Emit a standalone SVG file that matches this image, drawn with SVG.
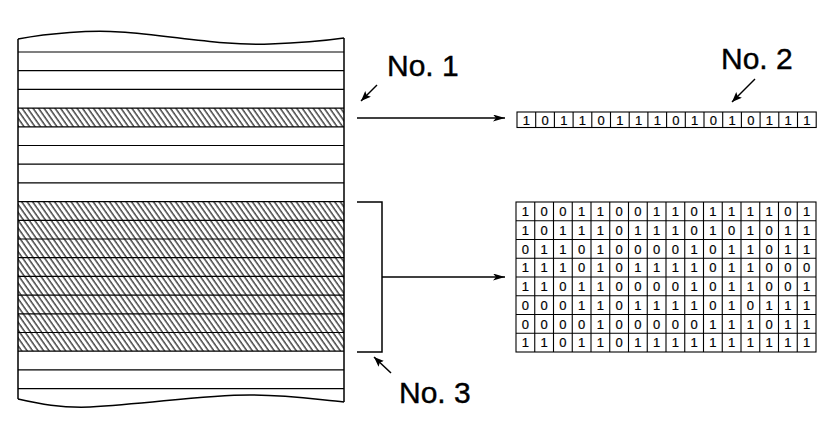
<svg xmlns="http://www.w3.org/2000/svg" width="838" height="439" viewBox="0 0 838 439">
<style>
.ln{stroke:#000;stroke-width:1.5;fill:none}
.hl{stroke:#000;stroke-width:1.2;fill:none}
.lbl{font-family:"Liberation Sans",Arial,sans-serif;font-size:30px;fill:#000;stroke:#000;stroke-width:0.4}
.dg{font-family:"Liberation Sans",Arial,sans-serif;font-size:13px;fill:#000;text-anchor:middle;stroke:#000;stroke-width:0.2}
.cell{stroke:#000;stroke-width:1.1;fill:none}
</style>
<defs>
<pattern id="hatch" patternUnits="userSpaceOnUse" width="4.5" height="10" patternTransform="rotate(-35)">
<line x1="1" y1="0" x2="1" y2="10" stroke="#000" stroke-width="1.1"/>
</pattern>
<marker id="ah" markerUnits="userSpaceOnUse" markerWidth="13" markerHeight="8" refX="12" refY="3.5" orient="auto">
<path d="M0,0 L12,3.5 L0,7 L3,3.5 z" fill="#000"/>
</marker>
<marker id="sah" markerUnits="userSpaceOnUse" markerWidth="11" markerHeight="9" refX="10" refY="4" orient="auto">
<path d="M0,0 L10,4 L0,8 L2,4 z" fill="#000"/>
</marker>
</defs>
<rect width="838" height="439" fill="#fff"/>

<g id="track-block">
<rect x="18" y="108.1" width="326" height="18.7" fill="url(#hatch)"/>
<rect x="18" y="201.6" width="326" height="149.6" fill="url(#hatch)"/>
<path class="ln" d="M18,39 C50,33 90,30 120,32 C170,35 220,46 270,44 C300,43 330,40 344,38"/>
<path class="ln" d="M18,399 C40,404 60,408 90,407 C150,404 200,395 250,395 C290,395 320,400 344,402"/>
<path class="ln" d="M18,39 V399 M344,38 V402"/>
<path class="hl" d="M18,52 H344 M18,70.7 H344 M18,89.4 H344 M18,108.1 H344 M18,126.8 H344 M18,145.5 H344 M18,164.2 H344 M18,182.9 H344 M18,201.6 H344 M18,220.3 H344 M18,239 H344 M18,257.7 H344 M18,276.4 H344 M18,295.1 H344 M18,313.8 H344 M18,332.5 H344 M18,351.2 H344 M18,369.9 H344 M18,388.6 H344"/>
</g>

<g id="label-no1"><text class="lbl" x="387" y="76">No. 1</text></g>
<g id="label-no2"><text class="lbl" x="721" y="69">No. 2</text></g>
<g id="label-no3"><text class="lbl" x="399" y="403">No. 3</text></g>

<g id="bracket">
<path class="ln" d="M357,202 H382 V352 H357"/>
</g>

<g id="row-bits">
<rect class="cell" x="517" y="112" width="299.2" height="15.5"/>
<path class="cell" d="M535.7,112v15.5M554.4,112v15.5M573.1,112v15.5M591.8,112v15.5M610.5,112v15.5M629.2,112v15.5M647.9,112v15.5M666.6,112v15.5M685.3,112v15.5M704,112v15.5M722.7,112v15.5M741.4,112v15.5M760.1,112v15.5M778.8,112v15.5M797.5,112v15.5"/>
<text class="dg" x="526.35 545.05 563.75 582.45 601.15 619.85 638.55 657.25 675.95 694.65 713.35 732.05 750.75 769.45 788.15 806.85" y="124.5">1011011101010111</text>
</g>

<g id="grid-bits">
<rect class="cell" x="516" y="202" width="300" height="150"/>
<path class="cell" d="M534.75,202v150M553.5,202v150M572.25,202v150M591,202v150M609.75,202v150M628.5,202v150M647.25,202v150M666,202v150M684.75,202v150M703.5,202v150M722.25,202v150M741,202v150M759.75,202v150M778.5,202v150M797.25,202v150M516,220.75h300M516,239.5h300M516,258.25h300M516,277h300M516,295.75h300M516,314.5h300M516,333.25h300"/>
<text class="dg" x="525.4 544.1 562.9 581.6 600.4 619.1 637.9 656.6 675.4 694.1 712.9 731.6 750.4 769.1 787.9 806.6" y="216">1001100110111101</text>
<text class="dg" x="525.4 544.1 562.9 581.6 600.4 619.1 637.9 656.6 675.4 694.1 712.9 731.6 750.4 769.1 787.9 806.6" y="234.8">1011101110101011</text>
<text class="dg" x="525.4 544.1 562.9 581.6 600.4 619.1 637.9 656.6 675.4 694.1 712.9 731.6 750.4 769.1 787.9 806.6" y="253.5">0110100001011011</text>
<text class="dg" x="525.4 544.1 562.9 581.6 600.4 619.1 637.9 656.6 675.4 694.1 712.9 731.6 750.4 769.1 787.9 806.6" y="272.3">1110101111011000</text>
<text class="dg" x="525.4 544.1 562.9 581.6 600.4 619.1 637.9 656.6 675.4 694.1 712.9 731.6 750.4 769.1 787.9 806.6" y="291">1101100001011001</text>
<text class="dg" x="525.4 544.1 562.9 581.6 600.4 619.1 637.9 656.6 675.4 694.1 712.9 731.6 750.4 769.1 787.9 806.6" y="309.8">0001101111010111</text>
<text class="dg" x="525.4 544.1 562.9 581.6 600.4 619.1 637.9 656.6 675.4 694.1 712.9 731.6 750.4 769.1 787.9 806.6" y="328.5">0000100000111011</text>
<text class="dg" x="525.4 544.1 562.9 581.6 600.4 619.1 637.9 656.6 675.4 694.1 712.9 731.6 750.4 769.1 787.9 806.6" y="347.3">1101101111111111</text>
</g>

<g id="connectors">
<line class="ln" x1="357" y1="118" x2="505" y2="118" marker-end="url(#ah)"/>
<line class="ln" x1="382" y1="277" x2="505" y2="277" marker-end="url(#ah)"/>
<line class="ln" x1="377" y1="85" x2="361" y2="101" marker-end="url(#sah)"/>
<line class="ln" x1="755" y1="79" x2="732" y2="102" marker-end="url(#sah)"/>
<line class="ln" x1="391" y1="373" x2="374" y2="357" marker-end="url(#sah)"/>
</g>
</svg>
